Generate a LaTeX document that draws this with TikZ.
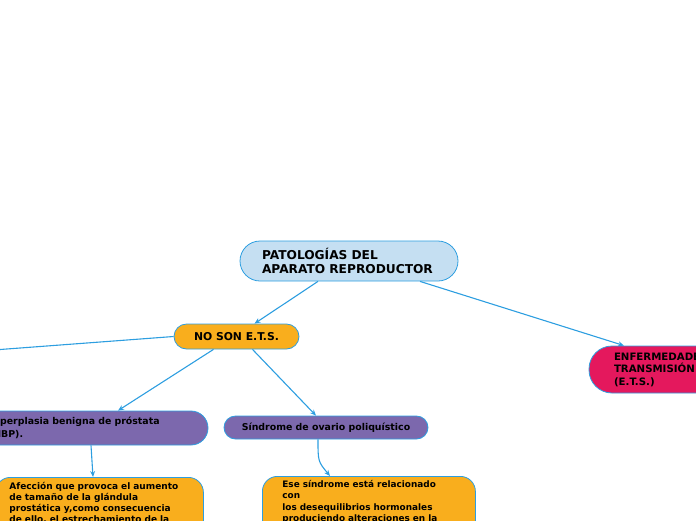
\documentclass[tikz,border=0pt]{standalone}
\usepackage{fontspec}
\setmainfont{DejaVu Sans}
\usepackage{tikz}
\usetikzlibrary{arrows.meta,calc,positioning}

\definecolor{linea}{RGB}{45,158,224}
\definecolor{celeste}{RGB}{197,223,242}
\definecolor{naranja}{RGB}{249,174,29}
\definecolor{rosa}{RGB}{228,24,93}
\definecolor{morado}{RGB}{124,104,173}

\begin{document}
\begin{tikzpicture}[x=1pt,y=-1pt,
    caja/.style={draw=linea,line width=0.8pt,font=\bfseries,text=black},
    rama/.style={draw=linea,line width=1.1pt,-{Stealth[length=6pt,width=5pt]}}]
    % Marco de la imagen
    \useasboundingbox (0,0) rectangle (696,520);
    \clip (0,0) rectangle (696,520);
    % Nodos
    \node[caja,fill=celeste,rounded corners=20pt,minimum width=218pt,minimum height=40pt,
          text width=174pt,inner xsep=22pt,align=left,font=\bfseries\fontsize{12.2}{14}\selectfont] (raiz) at (349,261)
      {PATOLOGÍAS DEL\\APARATO REPRODUCTOR};
    \node[caja,fill=naranja,rounded corners=12.5pt,minimum width=125pt,minimum height=25pt,
          font=\bfseries\fontsize{10.8}{12}\selectfont] (noets) at (236.5,336.5) {NO SON E.T.S.};
    \node[caja,fill=rosa,rounded corners=23pt,minimum width=190pt,minimum height=47pt,
          text width=140pt,align=left,font=\bfseries\fontsize{10.2}{12.5}\selectfont] (ets) at (684,369.5)
      {ENFERMEDADES DE\\TRANSMISIÓN SEXUAL\\(E.T.S.)};
    \node[caja,fill=morado,rounded corners=17pt,minimum width=240pt,minimum height=34pt,
          text width=198pt,inner xsep=21pt,align=left,font=\bfseries\fontsize{9.4}{12.5}\selectfont] (hbp) at (88,428)
      {Hiperplasia benigna de próstata\\(HBP).};
    \node[caja,fill=morado,rounded corners=11.5pt,minimum width=204pt,minimum height=23pt,
          font=\bfseries\fontsize{9.4}{10}\selectfont] (sop) at (326,427.5)
      {Síndrome de ovario poliquístico};
    \node[caja,fill=naranja,rounded corners=15pt,anchor=north west,inner xsep=14pt,inner ysep=5pt,
          text width=180pt,align=left,font=\bfseries\fontsize{9}{11}\selectfont] (afec) at (-5,477)
      {Afección que provoca el aumento\\de tamaño de la glándula\\prostática y,como consecuencia\\de ello, el estrechamiento de la\\uretra.};
    \node[caja,fill=naranja,rounded corners=15pt,anchor=north west,inner xsep=20pt,inner ysep=4pt,
          text width=173pt,align=left,font=\bfseries\fontsize{8.9}{11.3}\selectfont] (ese) at (262,476)
      {Ese síndrome está relacionado\\con\\los desequilibrios hormonales\\produciendo alteraciones en la\\ovulación.};
    % Conectores
    \coordinate (fuera) at (-20,351);
    \draw[rama] ([xshift=-31pt]raiz.south) -- ([xshift=18pt]noets.north);
    \draw[rama] ([xshift=71pt]raiz.south) -- ([xshift=-60pt]ets.north);
    \draw[rama] (noets.west) -- (fuera);
    \draw[rama] ([xshift=-23pt]noets.south) -- ([xshift=30pt]hbp.north);
    \draw[rama] ([xshift=16pt]noets.south) -- ([xshift=-10pt]sop.north);
    \draw[rama] ([xshift=3pt]hbp.south) -- ([xshift=98pt]afec.north west);
    \draw[rama] ([xshift=-8pt]sop.south) .. controls +(0,22) .. ([xshift=68pt]ese.north west);
\end{tikzpicture}
\end{document}
